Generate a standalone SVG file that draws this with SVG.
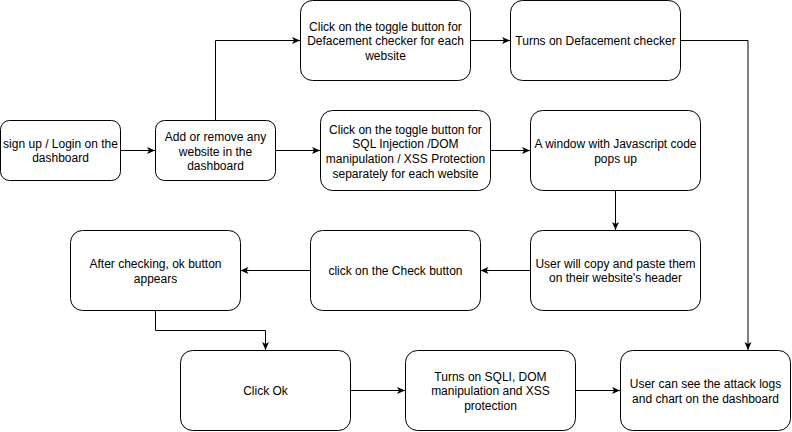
<svg xmlns="http://www.w3.org/2000/svg" width="792" height="432" viewBox="0 0 792 432">
<defs>
<marker id="arr" viewBox="0 0 8 8" refX="8" refY="4" markerWidth="8" markerHeight="8" markerUnits="userSpaceOnUse" orient="auto">
<path d="M0,0.5 L8,4 L0,7.5 L2,4 Z" fill="#000"/>
</marker>
<style>
.n rect{fill:#fff;stroke:#000;stroke-width:1}
.n text{font-family:"Liberation Sans",Arial,sans-serif;font-size:12px;fill:#000;text-anchor:middle}
.c path{fill:none;stroke:#000;stroke-width:1;marker-end:url(#arr)}
</style>
</defs>
<rect width="792" height="432" fill="#fff"/>
<g class="c" id="connectors">
<path d="M120.5,150.5 H155"/>
<path d="M215.5,120 V40.5 H300"/>
<path d="M275.5,150.5 H320"/>
<path d="M470.5,40.5 H510"/>
<path d="M490.5,150.5 H530"/>
<path d="M680.5,40.5 H748 V350"/>
<path d="M615.5,190 V230"/>
<path d="M530,270.5 H480.5"/>
<path d="M310,270.5 H240.5"/>
<path d="M155.5,310 V330.5 H265.5 V350"/>
<path d="M350.5,390.5 H405"/>
<path d="M575.5,390.5 H620"/>
</g>
<g class="n" id="n1"><rect x="0.5" y="120.5" width="120" height="60" rx="9"/><text x="60.5" y="148">sign up / Login on the</text><text x="60.5" y="162">dashboard</text></g>
<g class="n" id="n2"><rect x="155.5" y="120.5" width="120" height="60" rx="9"/><text x="215.5" y="141">Add or remove any</text><text x="215.5" y="155.5">website in the</text><text x="215.5" y="170">dashboard</text></g>
<g class="n" id="n3"><rect x="300.5" y="0.5" width="170" height="80" rx="12"/><text x="385.5" y="30.5">Click on the toggle button for</text><text x="385.5" y="45">Defacement checker for each</text><text x="385.5" y="59.5">website</text></g>
<g class="n" id="n4"><rect x="510.5" y="0.5" width="170" height="80" rx="12"/><text x="595.5" y="45">Turns on Defacement checker</text></g>
<g class="n" id="n5"><rect x="320.5" y="110.5" width="170" height="80" rx="12"/><text x="405.5" y="133.5">Click on the toggle button for</text><text x="405.5" y="148.3">SQL Injection /DOM</text><text x="405.5" y="163">manipulation / XSS Protection</text><text x="405.5" y="177.7">separately for each website</text></g>
<g class="n" id="n6"><rect x="530.5" y="110.5" width="170" height="80" rx="12"/><text x="615.5" y="148">A window with Javascript code</text><text x="615.5" y="162.7">pops up</text></g>
<g class="n" id="n7"><rect x="530.5" y="230.5" width="170" height="80" rx="12"/><text x="615.5" y="267.7">User will copy and paste them</text><text x="615.5" y="282.3">on their website's header</text></g>
<g class="n" id="n8"><rect x="310.5" y="230.5" width="170" height="80" rx="12"/><text x="395.5" y="275">click on the Check button</text></g>
<g class="n" id="n9"><rect x="70.5" y="230.5" width="170" height="80" rx="12"/><text x="155.5" y="268">After checking, ok button</text><text x="155.5" y="283">appears</text></g>
<g class="n" id="n10"><rect x="180.5" y="350.5" width="170" height="80" rx="12"/><text x="265.5" y="395">Click Ok</text></g>
<g class="n" id="n11"><rect x="405.5" y="350.5" width="170" height="80" rx="12"/><text x="490.5" y="380.7">Turns on SQLI, DOM</text><text x="490.5" y="395.3">manipulation and XSS</text><text x="490.5" y="409.7">protection</text></g>
<g class="n" id="n12"><rect x="620.5" y="350.5" width="170" height="80" rx="12"/><text x="705.5" y="388">User can see the attack logs</text><text x="705.5" y="403">and chart on the dashboard</text></g>
</svg>
